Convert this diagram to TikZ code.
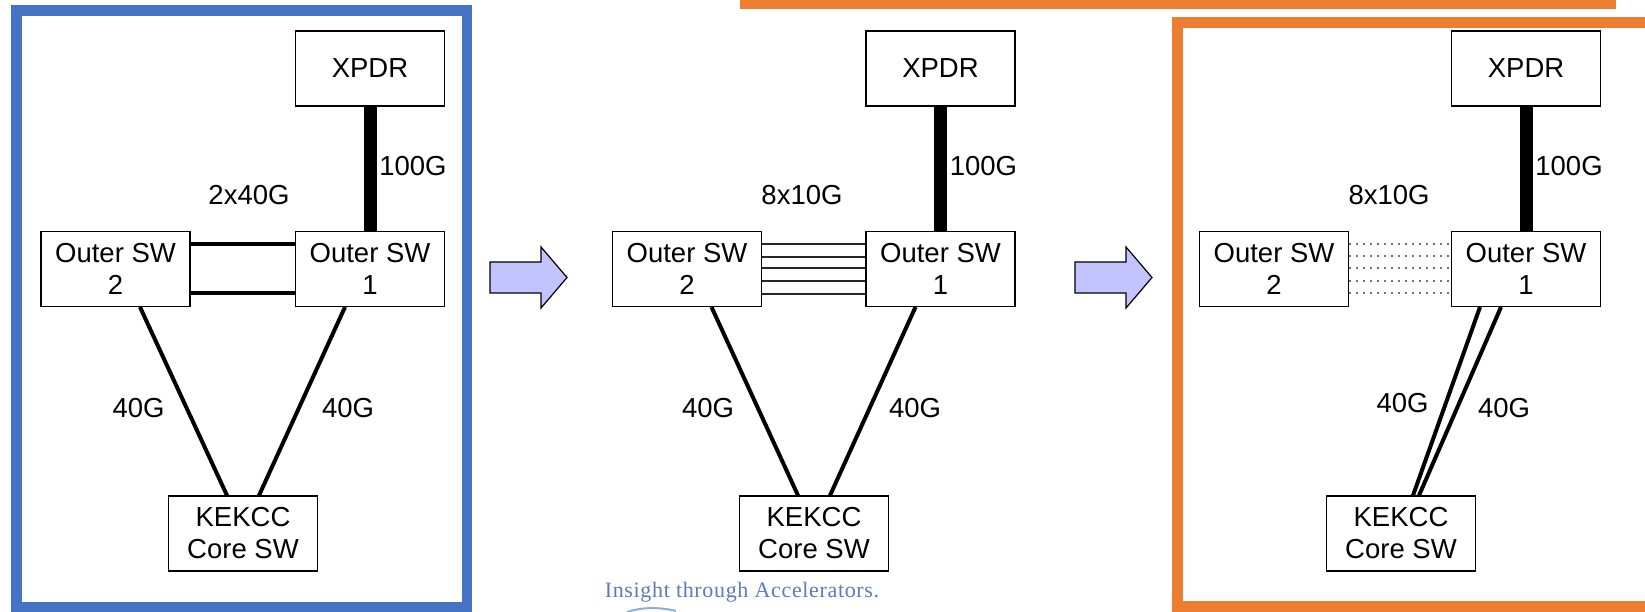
\documentclass[tikz,border=0pt]{standalone}
\usepackage{fontspec}
\setmainfont{Liberation Sans}
\newfontfamily\mottofont[LetterSpace=3]{Liberation Serif}
\usetikzlibrary{positioning}
\definecolor{kekblue}{HTML}{4472C4}
\definecolor{kekorange}{HTML}{ED7D31}
\definecolor{arrowfill}{RGB}{195,195,255}
\definecolor{mottoblue}{RGB}{95,120,190}
\tikzset{
  box/.style = {draw, line width=1.1pt, fill=white, minimum width=149pt,
      minimum height=75pt, inner sep=0pt, align=center,
      font=\fontsize{27.5}{32}\selectfont},
  lbl/.style = {font=\fontsize{27.5}{32}\selectfont, inner sep=0pt},
  link/.style = {line width=4pt},
  trunk/.style = {line width=13pt},
  fiber/.style = {line width=1.2pt, black!85},
  idle/.style = {line width=1.6pt, black!55, dash pattern=on 1.6pt off 5.4pt},
  frame/.style = {line width=#1},
  frame/.default = 10.5pt, % thickness of the panel frames
  nextarrow/.style = {draw=black, line width=1.2pt, fill=arrowfill,
      line join=miter},
}

\begin{document}
\begin{tikzpicture}[x=1pt, y=1pt]
  \useasboundingbox (0,0) rectangle (1645,612);
  \clip (0,0) rectangle (1645,612);

  \draw[frame, kekblue] (16.5,5) rectangle (467,601.5);
  \draw[frame=11pt, kekorange] (1177.5,5.5) rectangle (1700,589.5);
  \fill[kekorange] (740,603) rectangle (1616,612);

  % the three stages
  \foreach \p/\x/\xs/\xc in {A/370/115.5/243, B/940.5/687/814, C/1526/1274/1401} {
    \node[box] (xpdr\p) at (\x,543.5) {XPDR};
    \node[box] (osw1\p) at (\x,343) {Outer SW\\1};
    \node[box] (osw2\p) at (\xs,343) {Outer SW\\2};
    \node[box] (core\p) at (\xc,78.5) {KEKCC\\Core SW};
    \draw[trunk] (xpdr\p) -- (osw1\p);
    \node[lbl] (up\p) at (\x+43,446) {100G};
  }

  \draw[link] ([yshift=25pt]osw2A.east) -- ([yshift=25pt]osw1A.west);
  \draw[link] ([yshift=-24pt]osw2A.east) -- ([yshift=-24pt]osw1A.west);
  \foreach \dy in {25,12,1,-12,-25}
    \draw[fiber] ([yshift=\dy pt]osw2B.east) -- ([yshift=\dy pt]osw1B.west);
  \foreach \dy in {25,13,1,-12,-24}
    \draw[idle] ([yshift=\dy pt]osw2C.east) -- ([yshift=\dy pt]osw1C.west);

  \foreach \p in {A,B} {
    \draw[link] ([xshift=24.5pt]osw2\p.south) -- ([xshift=-16pt]core\p.north);
    \draw[link] ([xshift=-25pt]osw1\p.south) -- ([xshift=16pt]core\p.north);
  }
  \draw[link] ([xshift=-46pt]osw1C.south) -- ([xshift=12pt]coreC.north);
  \draw[link] ([xshift=-25pt]osw1C.south) -- ([xshift=18pt]coreC.north);

  \node[lbl] (bundleA) at (249,417) {2x40G};
  \node[lbl] (bundleB) at (802,417) {8x10G};
  \node[lbl] (bundleC) at (1389,417) {8x10G};
  \node[lbl] (leftA) at (138.5,204) {40G};
  \node[lbl] (rightA) at (348,204) {40G};
  \node[lbl] (leftB) at (708,204) {40G};
  \node[lbl] (rightB) at (915,204) {40G};
  \node[lbl] (leftC) at (1402.5,209) {40G};
  \node[lbl] (rightC) at (1504,204) {40G};

  \coordinate (arrA) at (490,334);
  \coordinate (arrB) at (1075,334);
  \foreach \a in {arrA,arrB}
    \draw[nextarrow] (\a) ++(0,16) -- ++(51,0) -- ++(0,15) -- ++(26,-30.5)
      -- ++(-26,-30.5) -- ++(0,15) -- ++(-51,0) -- cycle;

  \node[anchor=base, text=mottoblue, inner sep=0pt,
    font=\mottofont\fontsize{22}{26}\selectfont] (motto) at (742,14)
    {Insight through Accelerators.};
  \draw[kekblue!60, line width=2pt] (627,0) .. controls (642,5) and (660,5) .. (676,1);
\end{tikzpicture}
\end{document}
